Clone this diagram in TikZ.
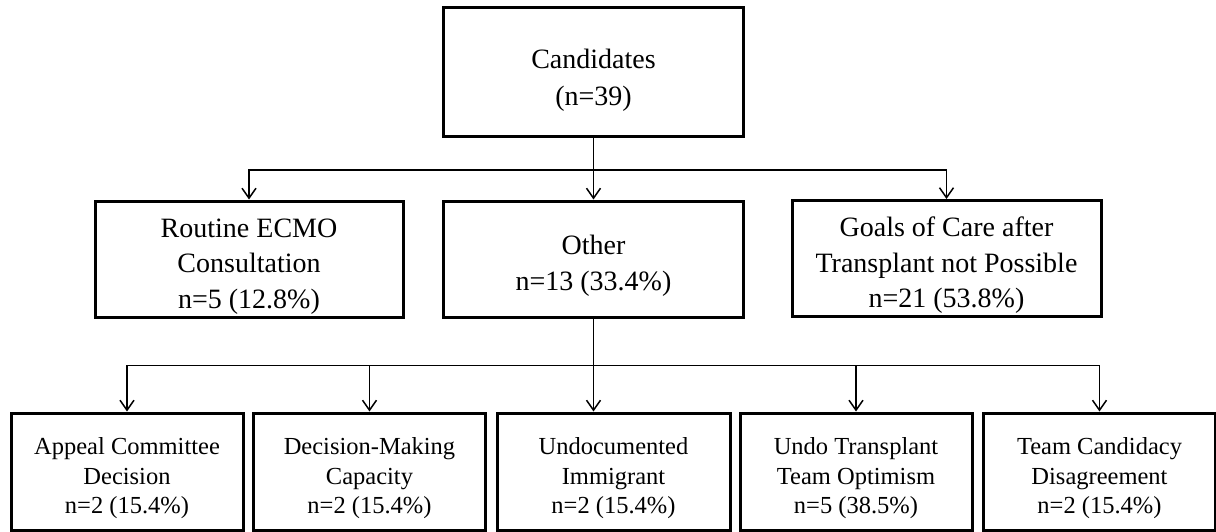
\documentclass[tikz,border=0pt]{standalone}
\usepackage{fontspec}
\setmainfont{Liberation Serif}
\usetikzlibrary{arrows.meta}
\newcommand\dn[1]{\rule{0pt}{#1}}
\begin{document}
\begin{tikzpicture}[x=1pt,y=-1pt,
  box/.style={draw=black,line width=3pt,fill=white,align=center,inner sep=0pt,
    font=\fontsize{28}{35.5}\selectfont,minimum height=116pt},
  topbox/.style={box,font=\fontsize{28}{37}\selectfont,minimum width=300pt,minimum height=129pt},
  lowbox/.style={box,font=\fontsize{24.5}{29.5}\selectfont,minimum width=232pt,minimum height=117pt},
  arr/.style={line width=1.5pt,-{Straight Barb[length=10pt,width=14pt,line width=1.5pt]}}]
\useasboundingbox (0,0) rectangle (1216,532);
\fill[white] (0,0) rectangle (1216,532);
\node[topbox] (top) at (593.5,72.5) {\dn{34pt}Candidates\\(n=39)};
\node[box,minimum width=308pt] (routine) at (249,259) {\dn{33pt}Routine ECMO\\Consultation\\n=5 (12.8\%)};
\node[box,minimum width=300pt] (other) at (593.5,259) {\dn{33pt}Other\\n=13 (33.4\%)};
\node[box,minimum width=309pt] (goals) at (946.5,258.5) {\dn{33pt}Goals of Care after\\Transplant not Possible\\n=21 (53.8\%)};
\node[lowbox] (b1) at (127,471.5) {\dn{31pt}Appeal Committee\\Decision\\n=2 (15.4\%)};
\node[lowbox] (b2) at (369.5,471.5) {\dn{31pt}Decision-Making\\Capacity\\n=2 (15.4\%)};
\node[lowbox,minimum width=233pt] (b3) at (613.5,471.5) {\dn{31pt}Undocumented\\Immigrant\\n=2 (15.4\%)};
\node[lowbox] (b4) at (856,471.5) {\dn{31pt}Undo Transplant\\Team Optimism\\n=5 (38.5\%)};
\node[lowbox] (b5) at (1099.5,471.5) {\dn{31pt}Team Candidacy\\Disagreement\\n=2 (15.4\%)};
\coordinate (j1) at (593.5,170);
\coordinate (j2) at (593.5,365.5);
\draw[arr] (top.south) -- (other.north);
\draw[arr] (j1) -| (routine.north);
\draw[arr] (j1) -| (goals.north);
\draw[arr] (other.south) -- (other.south |- b3.north);
\draw[arr] (j2) -| (b1.north);
\draw[arr] (j2) -| (b2.north);
\draw[arr] (j2) -| (b4.north);
\draw[arr] (j2) -| (b5.north);
\end{tikzpicture}
\end{document}
